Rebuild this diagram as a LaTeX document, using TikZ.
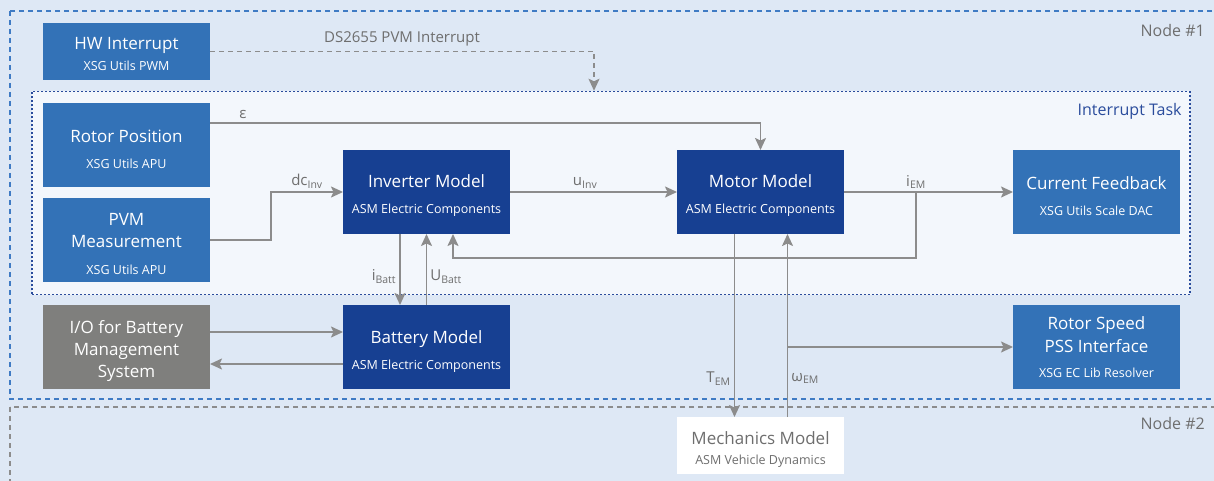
\documentclass[tikz,border=0pt]{standalone}
\usepackage{fontspec}
\setmainfont{Open Sans}
\usetikzlibrary{positioning, arrows.meta, calc}
\definecolor{bgblue}{HTML}{DEE8F5}
\definecolor{taskfill}{HTML}{F3F7FC}
\definecolor{utilblue}{HTML}{3372B7}
\definecolor{asmdark}{HTML}{174092}
\definecolor{iogray}{HTML}{7F7F7D}
\definecolor{wiregray}{HTML}{8C8C8C}
\definecolor{txtgray}{HTML}{6E6E6E}
\definecolor{frameblue}{HTML}{3F7BC4}
\definecolor{taskblue}{HTML}{2A4C9C}
\newcommand\ttlfnt{\fontsize{17}{20}\selectfont}
\newcommand\subfnt{\fontsize{12.5}{15}\selectfont}
\newcommand\lblfnt{\fontsize{15}{18}\selectfont}
\newcommand\tstrut{\rule{0pt}{21pt}}
\tikzset{
  % Function blocks
  block/.style={
    rectangle, minimum width=167pt, minimum height=84pt,
    fill=#1, text=white, font=\ttlfnt,
    align=center, inner sep=2pt, outer sep=0pt,
  },
  block/.default={asmdark},
  % Signal wires
  myarrow/.style={-{Stealth[length=12pt, width=11pt, inset=2.5pt]}, line width=1.8pt, draw=#1},
  myarrow/.default={wiregray},
  % Labels on wires
  arrlabel/.style={font=\lblfnt, text=txtgray, inner sep=3pt},
  % Node frames
  nodeframe/.style={draw=#1, dash pattern=on 5pt off 4pt, line width=1.5pt},
  nodeframe/.default={frameblue},
  frametitle/.style={font=\fontsize{16}{18}\selectfont, text=txtgray, inner sep=0pt},
  % Interrupt task frame
  taskbox/.style={
    rectangle, draw=taskblue, fill=taskfill, line width=1.5pt,
    dash pattern=on 2pt off 2pt, inner sep=0pt,
  },
  tasktitle/.style={font=\fontsize{16}{18}\selectfont, text=taskblue, inner sep=0pt},
}
\begin{document}
\begin{tikzpicture}[x=1pt, y=1pt]

  \useasboundingbox (0,0) rectangle (1214,-481);
  \clip (0,0) rectangle (1214,-481);
  \fill[bgblue] (0,0) rectangle (1214,-481);

  % Node frames
  \draw[nodeframe] (10,-11) rectangle (1240,-399);
  \draw[nodeframe=wiregray] (10,-407) rectangle (1240,-500);
  \node[frametitle, anchor=east] (n1) at (1205,-31) {Node \#1};
  \node[frametitle, anchor=east] (n2) at (1205,-423) {Node \#2};

  % Interrupt Task
  \node[taskbox, minimum width=1158pt, minimum height=203pt] (task) at (611,-193) {};
  \node[tasktitle, anchor=north east] (tasklbl) at ([xshift=-9pt, yshift=-12pt]task.north east) {Interrupt Task};

  % Blocks
  \node[block=utilblue, minimum height=57pt] (hw) at (126.5,-51.5) {\rule{0pt}{18pt}HW Interrupt\\[1pt]{\subfnt XSG Utils PWM}};
  \node[block=utilblue] (rotor) at (126.5,-145) {\tstrut Rotor Position\\[6pt]{\subfnt XSG Utils APU}};
  \node[block=utilblue, below=11pt of rotor] (pvm) {\tstrut PVM\\[2pt]Measurement\\[7pt]{\subfnt XSG Utils APU}};
  \node[block] (inv) at (426.5,-192) {\tstrut Inverter Model\\[6pt]{\subfnt ASM Electric Components}};
  \node[block, right=167pt of inv] (motor) {\tstrut Motor Model\\[6pt]{\subfnt ASM Electric Components}};
  \node[block=utilblue, right=169pt of motor] (cfb) {\tstrut Current Feedback\\[6pt]{\subfnt XSG Utils Scale DAC}};
  \node[block=iogray, below=23pt of pvm] (bms) {\tstrut I/O for Battery\\[2pt]Management\\[2pt]System};
  \node[block, below=71pt of inv] (batt) {\tstrut Battery Model\\[6pt]{\subfnt ASM Electric Components}};
  \node[block=utilblue, below=71pt of cfb] (rss) {Rotor Speed\\[3pt]PSS Interface\\[5pt]{\subfnt XSG EC Lib Resolver}};
  \node[block=white, text=txtgray, minimum height=57pt, below=183pt of motor] (mech) {\tstrut Mechanics Model\\[0pt]{\subfnt ASM Vehicle Dynamics}};

  % Interrupt trigger
  \draw[myarrow, line width=1.5pt, dash pattern=on 5pt off 4pt] (hw.east) -| ([xshift=-17pt]task.north)
    node[arrlabel, pos=0.25, above, yshift=2pt] {DS2655 PVM Interrupt};

  % Signals
  \draw[myarrow] ([yshift=22pt]rotor.east) -| (motor.north)
    node[arrlabel, pos=0.03, above] {ε};
  \draw[myarrow] (pvm.east) -- ++(61,0) |- (inv.west)
    node[arrlabel, pos=0.75, above] {dc\textsubscript{Inv}};
  \draw[myarrow] (inv) -- (motor)
    node[arrlabel, pos=0.45, above] {u\textsubscript{Inv}};
  \draw[myarrow] (motor) -- (cfb);
  \coordinate (emtap) at (916,-192);
  \coordinate (fbk) at (916,-258);
  \node[arrlabel, above] (iem) at (emtap) {i\textsubscript{EM}};
  \draw[myarrow] (emtap) -- (fbk) -| ([xshift=26.5pt]inv.south);
  \draw[myarrow] ([xshift=-26.5pt]inv.south) -- ([xshift=-26.5pt]batt.north)
    node[arrlabel, pos=0.6, left] {i\textsubscript{Batt}};
  \draw[myarrow] (batt.north) -- (inv.south)
    node[arrlabel, pos=0.4, right] {U\textsubscript{Batt}};
  \draw[myarrow] ([yshift=15pt]bms.east) -- ([yshift=15pt]batt.west);
  \draw[myarrow] ([yshift=-17pt]batt.west) -- ([yshift=-17pt]bms.east);
  \draw[myarrow] ([xshift=-26pt]motor.south) -- ([xshift=-26pt]motor.south |- mech.north)
    node[arrlabel, pos=0.79, left] {T\textsubscript{EM}};
  \draw[myarrow] ([xshift=27pt]motor.south |- mech.north) -- ([xshift=27pt]motor.south)
    node[arrlabel, pos=0.21, right] {ω\textsubscript{EM}};
  \draw[myarrow] ([xshift=27pt]motor.south |- rss.west) -- (rss.west);

\end{tikzpicture}
\end{document}
